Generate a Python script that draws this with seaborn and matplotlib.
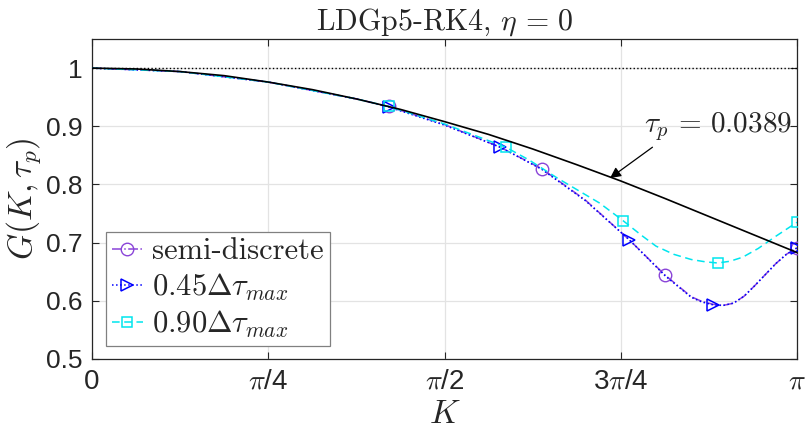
import numpy as np
import pandas as pd
import matplotlib
matplotlib.use("Agg")
import matplotlib.pyplot as plt
import seaborn as sns

# K values are given in units of pi
k_exact = [i / 16 for i in range(17)]
g_exact = [1.000, 0.9985, 0.994, 0.987, 0.976, 0.963, 0.947, 0.929, 0.908,
           0.886, 0.861, 0.834, 0.806, 0.776, 0.745, 0.714, 0.683]

k_ref = [0.0, 1.0]
g_ref = [1.0, 1.0]

k_semi = [0.0, 0.125, 0.25, 0.375, 0.421, 0.5, 0.579, 0.638, 0.70, 0.762,
          0.813, 0.85, 0.865, 0.881, 0.895, 0.91, 0.925, 0.94, 0.955, 0.97,
          0.985, 1.0]
g_semi = [1.0, 0.994, 0.976, 0.947, 0.934, 0.903, 0.864, 0.827, 0.773, 0.705,
          0.644, 0.607, 0.599, 0.594, 0.592, 0.596, 0.608, 0.626, 0.645, 0.664,
          0.680, 0.691]
g_045 = [1.0, 0.994, 0.976, 0.947, 0.933, 0.902, 0.864, 0.826, 0.772, 0.705,
         0.643, 0.606, 0.598, 0.593, 0.592, 0.596, 0.608, 0.626, 0.645, 0.664,
         0.680, 0.691]

k_090 = [0.0, 0.125, 0.25, 0.375, 0.421, 0.5, 0.587, 0.62, 0.66, 0.72, 0.753,
         0.78, 0.80, 0.825, 0.85, 0.87, 0.8875, 0.905, 0.923, 0.945, 0.97, 1.0]
g_090 = [1.0, 0.994, 0.976, 0.947, 0.934, 0.904, 0.864, 0.842, 0.811, 0.768,
         0.738, 0.712, 0.694, 0.680, 0.671, 0.667, 0.665, 0.668, 0.675, 0.690,
         0.711, 0.735]

marks_semi = [4, 7, 10, 21]
marks_045 = [4, 6, 9, 13, 21]
marks_090 = [4, 6, 10, 16, 21]

xtick_vals = [0, 0.25, 0.5, 0.75, 1.0]
xtick_labels = ["0", r"$\pi$/4", r"$\pi$/2", r"3$\pi$/4", r"$\pi$"]
ytick_vals = [0.5, 0.6, 0.7, 0.8, 0.9, 1.0]
ytick_labels = ["0.5", "0.6", "0.7", "0.8", "0.9", "1"]

tau_text = r"$\tau_p\,=\,0.0389$"
tip = (0.7348, 0.811)
tail = (0.795, 0.864)

sns.set_theme(style="whitegrid")
plt.rcParams["font.family"] = ["Liberation Sans", "DejaVu Sans"]
plt.rcParams["mathtext.fontset"] = "cm"
plt.rcParams["axes.unicode_minus"] = False

fig = plt.figure(figsize=(8.1, 4.3), dpi=100)
ax = fig.add_axes([92 / 810, 1 - 359 / 430, 705 / 810, 320 / 430])
ax.set_facecolor("white")

pi = np.pi
c_semi = "#8a44d8"
c_045 = "#0000ff"
c_090 = "#00e5ee"

sns.lineplot(x=np.array(k_semi) * pi, y=g_semi, ax=ax, color=c_semi,
             linestyle="-.", linewidth=1.1, marker="o", markevery=marks_semi,
             markersize=9, markerfacecolor="none", markeredgecolor=c_semi,
             markeredgewidth=1.0, label="semi-discrete", estimator=None, zorder=3)
sns.lineplot(x=np.array(k_semi) * pi, y=g_045, ax=ax, color=c_045,
             linestyle=":", linewidth=1.1, marker=">", markevery=marks_045,
             markersize=9, markerfacecolor="none", markeredgecolor=c_045,
             markeredgewidth=1.1, label=r"$0.45\Delta\tau_{max}$",
             estimator=None, zorder=3)
sns.lineplot(x=np.array(k_090) * pi, y=g_090, ax=ax, color=c_090,
             linestyle=(0, (5, 3)), linewidth=1.1, marker="s", markevery=marks_090,
             markersize=7, markerfacecolor="none", markeredgecolor=c_090,
             markeredgewidth=1.1, label=r"$0.90\Delta\tau_{max}$",
             estimator=None, zorder=3)

ax.plot(np.array(k_exact) * pi, g_exact, color="black", linewidth=1.2, zorder=4)
ax.plot(np.array(k_ref) * pi, g_ref, color="black", linestyle=":", linewidth=1.0, zorder=4)

ax.annotate("", xy=(tip[0] * pi, tip[1]), xytext=(tail[0] * pi, tail[1]),
            arrowprops=dict(arrowstyle="-|>", color="black", lw=0.9,
                            mutation_scale=16, shrinkA=0, shrinkB=0), zorder=5)
ax.text(0.783 * pi, 0.899, tau_text, fontsize=21, ha="left", va="center", zorder=5)

ax.set_xlim(0, pi)
ax.set_ylim(0.5, 1.05)
ax.set_xticks(np.array(xtick_vals) * pi)
ax.set_xticklabels(xtick_labels, fontsize=20)
ax.set_yticks(ytick_vals)
ax.set_yticklabels(ytick_labels, fontsize=19)
ax.tick_params(direction="in", length=5, width=0.8, top=True, right=True,
               bottom=True, left=True, colors="#262626", pad=7)
ax.grid(True, color="#e3e3e3", linewidth=0.9)
for s in ax.spines.values():
    s.set_color("#262626")
    s.set_linewidth(0.9)

ax.set_title(r"LDGp5-RK4, $\eta\,=\,0$", fontsize=21.5, family="cmr10", pad=7)
ax.set_xlabel(r"$K$", fontsize=24, labelpad=3)
ax.set_ylabel(r"$G(K,\tau_p)$", fontsize=24, labelpad=2)

leg = ax.legend(loc="lower left", bbox_to_anchor=(0.02, 0.04),
                prop={"family": "cmr10", "size": 22}, handlelength=1.0,
                handletextpad=0.3, borderpad=0.2, labelspacing=0.2,
                fancybox=False, framealpha=1, edgecolor="#808080",
                borderaxespad=0)
leg.get_frame().set_linewidth(0.9)

fig.savefig("out.png", dpi=100)
